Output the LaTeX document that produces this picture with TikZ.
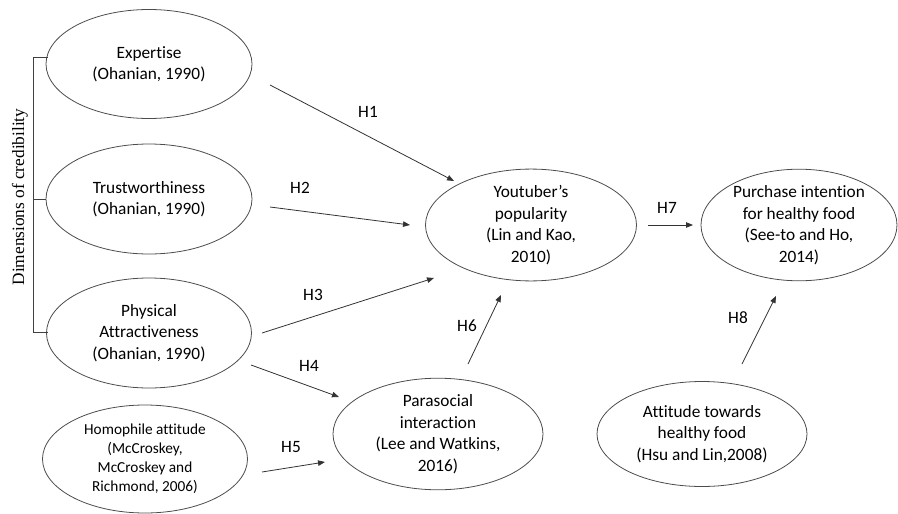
\documentclass[tikz,border=0pt]{standalone}
\usepackage{fontspec}
\setmainfont{Carlito}[Ligatures={NoCommon}]
\newfontfamily\timesf{Liberation Serif}
\usetikzlibrary{shapes.geometric,arrows.meta}
\begin{document}
\begin{tikzpicture}[x=1pt,y=-1pt,
  ell/.style={draw=black!70,line width=0.8pt,ellipse,inner sep=0pt,align=center,
    font=\fontsize{17.3}{21.5}\selectfont},
  arr/.style={draw=black!80,line width=0.8pt,-{Triangle[length=7pt,width=5.5pt]}},
  hlab/.style={font=\fontsize{17.3}{20}\selectfont},
  brk/.style={draw=black!75,line width=0.8pt}]
\useasboundingbox (0,0) rectangle (898,514);
% ellipses
\node[ell,minimum width=206pt,minimum height=109pt] (exp) at (149,64) {Expertise\\(Ohanian, 1990)};
\node[ell,minimum width=206pt,minimum height=110pt] (tru) at (149,199) {Trustworthiness\\(Ohanian, 1990)};
\node[ell,minimum width=205pt,minimum height=110pt] (phy) at (149,333) {Physical\\Attractiveness\\(Ohanian, 1990)};
\node[ell,minimum width=205pt,minimum height=108pt,font=\fontsize{15.3}{19}\selectfont] (hom) at (145,459) {Homophile attitude\\(McCroskey,\\McCroskey and\\Richmond, 2006)};
\node[ell,minimum width=211pt,minimum height=104pt] (you) at (531,225) {Youtuber’s\\popularity\\(Lin and Kao,\\2010)};
\node[ell,minimum width=210pt,minimum height=104pt] (par) at (438,434) {Parasocial\\interaction\\(Lee and Watkins,\\2016)};
\node[ell,minimum width=210pt,minimum height=105pt] (att) at (702,434) {Attitude towards\\healthy food\\(Hsu and Lin,2008)};
\node[ell,minimum width=196pt,minimum height=104pt] (pur) at (799,225) {Purchase intention\\for healthy food\\(See-to and Ho,\\2014)};
% bracket
\coordinate (b1) at (33,57);
\coordinate (b2) at (33,199);
\coordinate (b3) at (33,332);
\coordinate (t1) at (47.5,57);
\coordinate (t3) at (48,332);
\draw[brk] (t1) -- (b1) -- (b3) -- (t3);
\draw[brk] (b2) -- (tru.west);
\node[rotate=90,font=\timesf\fontsize{17.3}{20}\selectfont] (dim) at (20,197) {Dimensions of credibility};
% arrow endpoints
\coordinate (s1) at (270,85);  \coordinate (e1) at (454,181);
\coordinate (s2) at (270,207); \coordinate (e2) at (410,225);
\coordinate (s3) at (262,333); \coordinate (e3) at (434,278);
\coordinate (s4) at (251,365); \coordinate (e4) at (339,397);
\coordinate (s5) at (262,472); \coordinate (e5) at (325,462);
\coordinate (s6) at (468,364); \coordinate (e6) at (501,295);
\coordinate (s7) at (648,225); \coordinate (e7) at (693,225);
\coordinate (s8) at (742,364); \coordinate (e8) at (776,296);
\draw[arr] (s1) -- (e1);
\draw[arr] (s2) -- (e2);
\draw[arr] (s3) -- (e3);
\draw[arr] (s4) -- (e4);
\draw[arr] (s5) -- (e5);
\draw[arr] (s6) -- (e6);
\draw[arr] (s7) -- (e7);
\draw[arr] (s8) -- (e8);
% labels
\node[hlab] (l1) at (368,112) {H1};
\node[hlab] (l2) at (300,188) {H2};
\node[hlab] (l3) at (313,295) {H3};
\node[hlab] (l4) at (309,366) {H4};
\node[hlab] (l5) at (291,447) {H5};
\node[hlab] (l6) at (467,326) {H6};
\node[hlab] (l7) at (667,208) {H7};
\node[hlab] (l8) at (738,318) {H8};
\end{tikzpicture}
\end{document}
